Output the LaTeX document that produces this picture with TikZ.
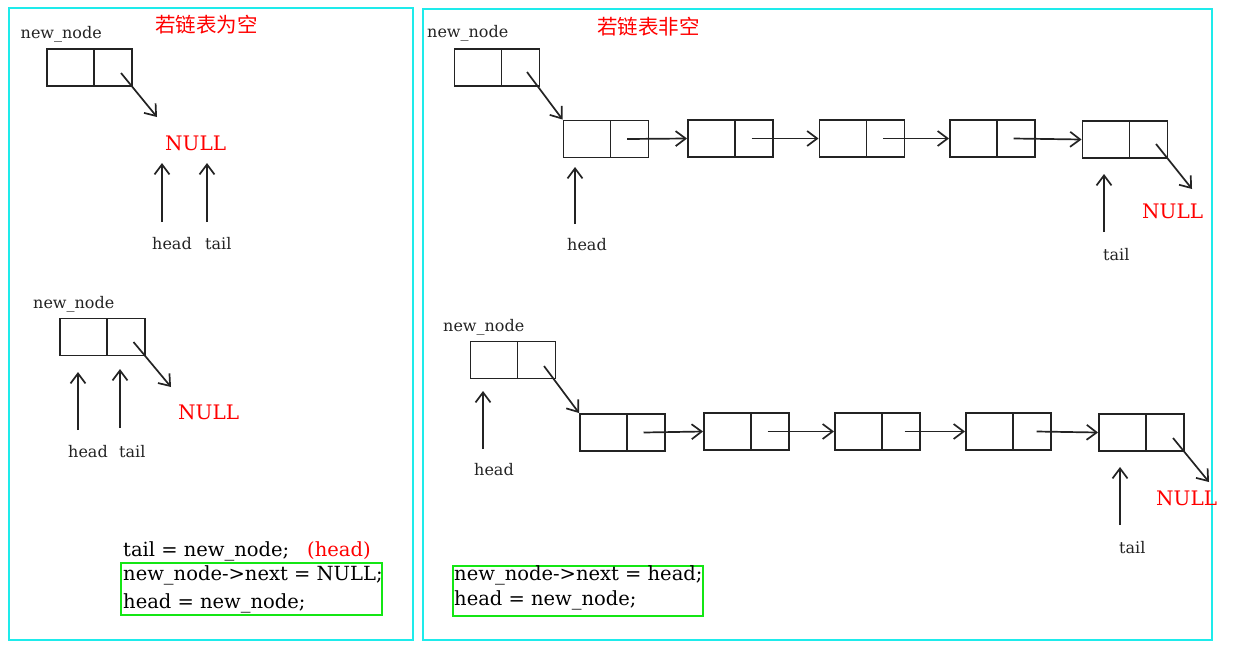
\documentclass[tikz,border=0pt]{standalone}
\usepackage{fontspec}
\setmainfont{DejaVu Serif}
\newfontfamily\cjk{Noto Sans CJK SC}
\usetikzlibrary{arrows.meta}
\definecolor{ink}{RGB}{35,35,35}
\definecolor{panel}{RGB}{30,235,235}
\definecolor{codebox}{RGB}{20,230,20}
\definecolor{nullred}{RGB}{255,0,0}
\tikzset{
  cell/.style={draw=ink, line width=1.9pt, minimum width=85pt, minimum height=37pt, inner sep=0pt,
    path picture={\draw[ink, line width=1.9pt] ([xshift=47pt]path picture bounding box.north west) -- ([xshift=47pt]path picture bounding box.south west);}},
  ptr/.style={draw=ink, line width=1.7pt, -{Straight Barb[length=10pt,width=15pt,line width=1.7pt]}},
  lbl/.style={anchor=base west, inner sep=0pt, text=ink, font=\fontsize{16}{19}\selectfont},
  nul/.style={anchor=base west, inner sep=0pt, text=nullred, font=\fontsize{20}{24}\selectfont},
  code/.style={anchor=base west, inner sep=0pt, text=black, font=\fontsize{19.5}{23}\selectfont},
  title/.style={anchor=base west, inner sep=0pt, text=nullred, font=\cjk\fontsize{20.5}{24}\selectfont},
  panelbox/.style={draw=panel, line width=2.4pt},
  greenbox/.style={draw=codebox, line width=2.2pt}
}
\begin{document}
\begin{tikzpicture}[x=1pt,y=-1pt]
\useasboundingbox (0,0) rectangle (1239,662);
% panels
\draw[panelbox] (9,8) rectangle (413,640);
\draw[panelbox] (423,9) rectangle (1212,640);
\draw[greenbox] (121,563) rectangle (382,615);
\draw[greenbox] (453,566) rectangle (703,616);

% titles
\node[title] (t1) at (155,32) {若链表为空};
\node[title] (t2) at (597,34) {若链表非空};

% ---------- left top ----------
\node[lbl] (nnA) at (20.5,38) {new\_node};
\node[cell] (L1) at (89.5,67.5) {};
\node[nul] (nullA) at (165,150) {NULL};
\coordinate (L1e) at (157,117);
\draw[ptr] ([shift={(31.5,5.5)}]L1.center) -- (L1e);
\node[lbl] (headA) at (152,249) {head};
\node[lbl] (tailA) at (205,249) {tail};
\coordinate (hA0) at (162,222); \coordinate (hA1) at (162,163);
\coordinate (tA0) at (207,222); \coordinate (tA1) at (207,163);
\draw[ptr] (hA0) -- (hA1);
\draw[ptr] (tA0) -- (tA1);

% ---------- left bottom ----------
\node[lbl] (nnB) at (33,308) {new\_node};
\node[cell] (L2) at (102.5,337) {};
\coordinate (L2e) at (171,387);
\draw[ptr] ([shift={(31,5)}]L2.center) -- (L2e);
\node[nul] (nullB) at (178,419) {NULL};
\node[lbl] (headB) at (68,457) {head};
\node[lbl] (tailB) at (119,457) {tail};
\coordinate (hB0) at (78,430); \coordinate (hB1) at (78,372);
\coordinate (tB0) at (120,428); \coordinate (tB1) at (120,369);
\draw[ptr] (hB0) -- (hB1);
\draw[ptr] (tB0) -- (tB1);

\node[code] (c1) at (123,556) {tail = new\_node;};
\node[code, text=nullred] (c1h) at (307,556) {(head)};
\node[code] (c2) at (123,580) {new\_node->next = NULL;};
\node[code] (c3) at (123,608) {head = new\_node;};

% ---------- right top ----------
\node[lbl] (nnC) at (427,37) {new\_node};
\node[cell] (R0) at (497,67.5) {};
\node[cell] (R1) at (606,139) {};
\node[cell] (R2) at (730.5,138.5) {};
\node[cell] (R3) at (862,138.5) {};
\node[cell] (R4) at (992.5,138.5) {};
\node[cell] (R5) at (1125,139.5) {};
\draw[ptr] ([shift={(30,4.5)}]R0.center) -- (R1.north west);
\draw[ptr] ([xshift=21pt]R1.center) -- (R2.west);
\draw[ptr] ([xshift=21pt]R2.center) -- (R3.west);
\draw[ptr] ([xshift=21pt]R3.center) -- (R4.west);
\draw[ptr] ([xshift=21pt]R4.center) -- (R5.west);
\coordinate (R5e) at (1192,189);
\draw[ptr] ([shift={(31,4.5)}]R5.center) -- (R5e);
\node[nul] (nullC) at (1142,218) {NULL};
\node[lbl] (headC) at (567,250) {head};
\node[lbl] (tailC) at (1103,260) {tail};
\coordinate (hC0) at (575,224); \coordinate (hC1) at (575,167);
\coordinate (tC0) at (1104,232); \coordinate (tC1) at (1104,174);
\draw[ptr] (hC0) -- (hC1);
\draw[ptr] (tC0) -- (tC1);

% ---------- right bottom ----------
\node[lbl] (nnD) at (443,331) {new\_node};
\node[cell] (S0) at (513,360) {};
\node[cell] (S1) at (622.5,432.5) {};
\node[cell] (S2) at (746.5,431.5) {};
\node[cell] (S3) at (877.5,431.5) {};
\node[cell] (S4) at (1008.5,431.5) {};
\node[cell] (S5) at (1141.5,432.5) {};
\draw[ptr] ([shift={(31,6)}]S0.center) -- (S1.north west);
\draw[ptr] ([xshift=21pt]S1.center) -- (S2.west);
\draw[ptr] ([xshift=21pt]S2.center) -- (S3.west);
\draw[ptr] ([xshift=27pt]S3.center) -- (S4.west);
\draw[ptr] ([xshift=28pt]S4.center) -- (S5.west);
\coordinate (S5e) at (1209,482);
\draw[ptr] ([shift={(31.5,5.5)}]S5.center) -- (S5e);
\node[nul] (nullD) at (1156,505) {NULL};
\node[lbl] (headD) at (474,475) {head};
\node[lbl] (tailD) at (1119,553) {tail};
\coordinate (hD0) at (483,449); \coordinate (hD1) at (483,391);
\coordinate (tD0) at (1120,525); \coordinate (tD1) at (1120,467);
\draw[ptr] (hD0) -- (hD1);
\draw[ptr] (tD0) -- (tD1);

\node[code] (d1) at (454,580) {new\_node->next = head;};
\node[code] (d2) at (454,605) {head = new\_node;};
\end{tikzpicture}
\end{document}
